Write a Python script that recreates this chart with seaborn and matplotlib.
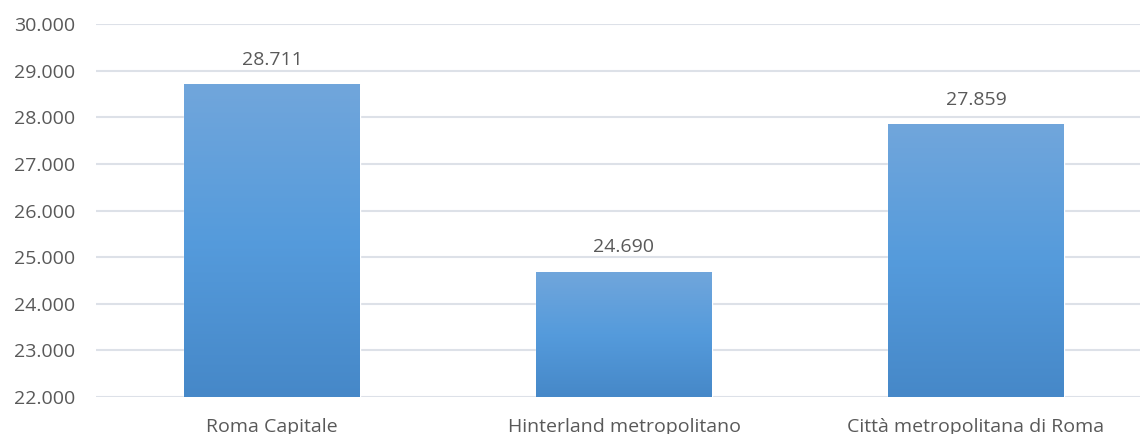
import matplotlib
matplotlib.use("Agg")
import matplotlib.pyplot as plt
import seaborn as sns
import numpy as np
import pandas as pd
from matplotlib.colors import LinearSegmentedColormap
from matplotlib.ticker import FuncFormatter

categorie = ["Roma Capitale", "Hinterland metropolitano", "Città metropolitana di Roma"]
valori = [28711, 24690, 27859]

df = pd.DataFrame({"area": categorie, "valore": valori})

sns.set_style("white")
plt.rcParams["font.family"] = ["Open Sans", "DejaVu Sans"]

fig = plt.figure(figsize=(11.4, 4.34), dpi=100)
ax = fig.add_axes([96 / 1140, 37 / 434, 1056 / 1140, 373 / 434])

sns.barplot(data=df, x="area", y="valore", color="#5B9BD5", width=0.5, ax=ax, zorder=2)

ax.set_ylim(22000, 30000)
ax.set_yticks(np.arange(22000, 30001, 1000))
ax.yaxis.set_major_formatter(FuncFormatter(lambda v, p: f"{v:,.0f}".replace(",", ".")))
ax.grid(axis="y", color="#DDE1E8", linewidth=1.5, zorder=0)
ax.set_axisbelow(True)
for s in ax.spines.values():
    s.set_visible(False)
ax.tick_params(axis="both", length=0, colors="#595959", labelsize=14)
ax.tick_params(axis="y", pad=15)
ax.tick_params(axis="x", pad=15)
ax.set_xlabel("")
ax.set_ylabel("")

# gradiente verticale sulle barre
cmap = LinearSegmentedColormap.from_list("grad", ["#4688C8", "#559BDC", "#71A6DB"])
grad = np.linspace(0, 1, 256).reshape(-1, 1)
for bar in ax.patches:
    x0, y0 = bar.get_x(), bar.get_y()
    w, h = bar.get_width(), bar.get_height()
    im = ax.imshow(grad, cmap=cmap, origin="lower", aspect="auto",
                   extent=[x0, x0 + w, 22000, y0 + h], zorder=3)
    im.set_clip_path(bar)
ax.set_xlim(-0.5, 2.5)
ax.set_ylim(22000, 30000)

for bar, v in zip(ax.patches, valori):
    ax.annotate(f"{v:,}".replace(",", "."), (bar.get_x() + bar.get_width() / 2, v),
                xytext=(0, 11), textcoords="offset points", ha="center", va="bottom",
                fontsize=14, color="#595959")

fig.savefig("out.png", dpi=100)
